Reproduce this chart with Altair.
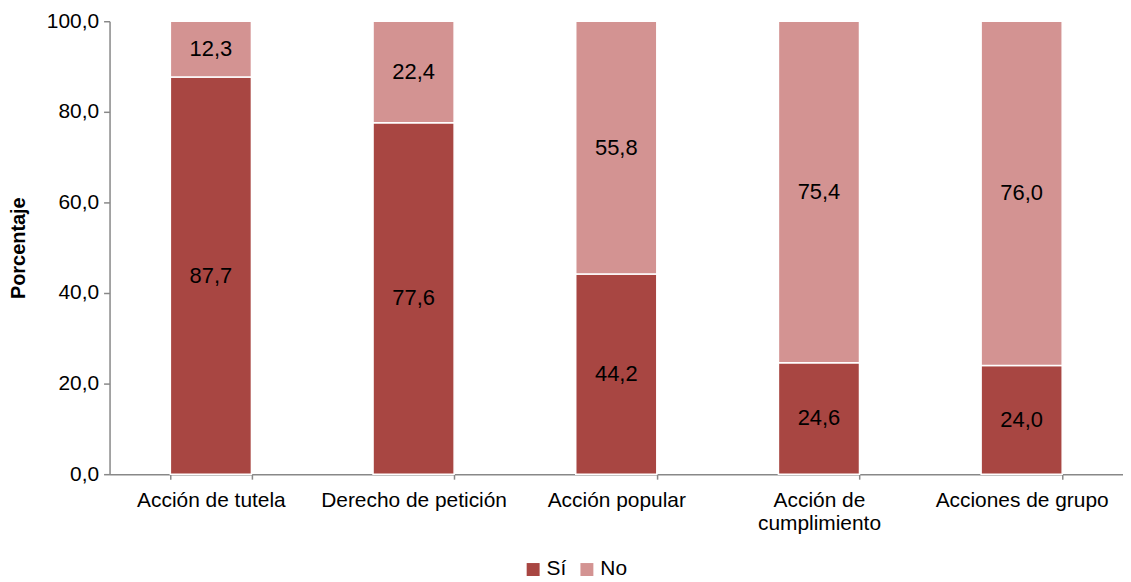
import altair as alt
import pandas as pd

categories = ["Acción de tutela", "Derecho de petición", "Acción popular",
              "Acción de cumplimiento", "Acciones de grupo"]
cat_labels = ["Acción de tutela", "Derecho de petición", "Acción popular",
              "Acción de|cumplimiento", "Acciones de grupo"]
si_values = [87.7, 77.6, 44.2, 24.6, 24.0]
no_values = [12.3, 22.4, 55.8, 75.4, 76.0]
series = ["Sí", "No"]
colors = ["#A84642", "#D39392"]

rows = []
for i, c in enumerate(cat_labels):
    rows.append({"cat": c, "serie": "Sí", "order": 0, "value": si_values[i]})
    rows.append({"cat": c, "serie": "No", "order": 1, "value": no_values[i]})
df = pd.DataFrame(rows)

FONT = "Liberation Sans"

base = alt.Chart(df).transform_stack(
    stack="value", groupby=["cat"], as_=["y0", "y1"],
    sort=[alt.SortField("order", order="ascending")]
).transform_calculate(
    mid="(datum.y0 + datum.y1) / 2",
    lbl="replace(format(datum.value, '.1f'), '.', ',')"
)

x_enc = alt.X("cat:N", sort=cat_labels, title=None,
              scale=alt.Scale(paddingInner=0.6, paddingOuter=0.3),
              axis=alt.Axis(labelExpr="split(datum.label, '|')", labelAngle=0,
                            labelFontSize=21, labelFont=FONT, labelColor="#000000",
                            labelLimit=0,
                            domainColor="#888888", domainWidth=1.5,
                            tickColor="#888888", tickSize=5, tickWidth=1.5,
                            tickBand="extent", labelPadding=10, labelLineHeight=24))

bars = base.mark_bar(stroke="white", strokeWidth=1.5).encode(
    x=x_enc,
    y=alt.Y("y0:Q", scale=alt.Scale(domain=[0, 100]), title="Porcentaje",
            axis=alt.Axis(values=[0, 20, 40, 60, 80, 100], grid=False,
                          labelExpr="replace(format(datum.value, '.1f'), '.', ',')",
                          labelFontSize=21, labelFont=FONT, labelColor="#000000",
                          titleFont=FONT, titleFontSize=20, titleFontWeight="bold",
                          titleColor="#000000", titlePadding=18,
                          domainColor="#888888", domainWidth=1.5,
                          tickColor="#888888", tickSize=6, tickWidth=1.5, labelPadding=5)),
    y2="y1:Q",
    color=alt.Color("serie:N", scale=alt.Scale(domain=series, range=colors),
                    legend=alt.Legend(title=None, orient="none", direction="horizontal",
                                      legendX=415, legendY=540, padding=0,
                                      symbolType="square", symbolSize=169,
                                      symbolStrokeWidth=0,
                                      labelFontSize=21, labelFont=FONT,
                                      labelColor="#000000", columnPadding=10,
                                      labelOffset=3)),
    order=alt.Order("order:Q")
)

text = base.mark_text(fontSize=22, font=FONT, color="#000000").encode(
    x=alt.X("cat:N", sort=cat_labels),
    y=alt.Y("mid:Q"),
    text="lbl:N"
)

chart = alt.layer(bars, text).properties(
    width=1018, height=455,
    autosize=alt.AutoSizeParams(type="none"),
    padding={"left": 102, "top": 12, "right": 0, "bottom": 105}
).configure_view(stroke=None)

chart.save("out.html", embed_options={"renderer": "svg", "actions": False})
